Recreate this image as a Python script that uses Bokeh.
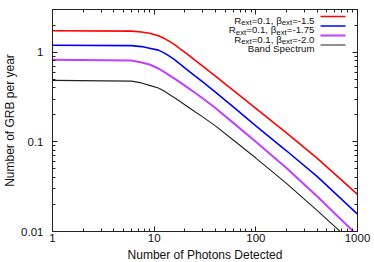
from bokeh.plotting import figure
from bokeh.models import LogAxis, FixedTicker, LogTickFormatter, Label, BoxAnnotation
from bokeh.embed import file_html
from bokeh.resources import INLINE

# ---- data ----
photons = [1, 6, 7.5, 9, 11, 12.5, 14, 16, 18, 21, 25, 30, 40, 60, 100, 200, 400, 1000]
rate_beta_15 = [1.74, 1.72, 1.68, 1.63, 1.53, 1.43, 1.33, 1.21, 1.09, 0.958, 0.82, 0.701,
                0.54, 0.376, 0.237, 0.126, 0.066, 0.0259]
rate_beta_175 = [1.196, 1.187, 1.157, 1.11, 1.057, 0.985, 0.91, 0.824, 0.738, 0.64, 0.547,
                 0.466, 0.36, 0.246, 0.151, 0.0796, 0.0413, 0.0156]
rate_beta_20 = [0.823, 0.809, 0.769, 0.73, 0.659, 0.604, 0.557, 0.505, 0.461, 0.409, 0.356,
                0.307, 0.239, 0.163, 0.1005, 0.051, 0.0247, 0.00903]
rate_band = [0.485, 0.476, 0.455, 0.427, 0.399, 0.37, 0.34, 0.309, 0.282, 0.25, 0.218,
             0.19, 0.151, 0.105, 0.066, 0.0344, 0.0172, 0.00667]

# legend texts as (text, is_subscript) pieces
series_labels = [
    [("R", False), ("ext", True), ("=0.1, \u03b2", False), ("ext", True), ("=-1.5", False)],
    [("R", False), ("ext", True), ("=0.1, \u03b2", False), ("ext", True), ("=-1.75", False)],
    [("R", False), ("ext", True), ("=0.1, \u03b2", False), ("ext", True), ("=-2.0", False)],
    [("Band Spectrum", False)],
]
x_major = [1, 10, 100, 1000]
y_major = [0.01, 0.1, 1]
x_label = "Number of Photons Detected"
y_label = "Number of GRB per year"

FONT = "Liberation Sans"
AX = "#222222"
FRAME_W, FRAME_H = 305, 222

x_minor = [m * 10 ** e for e in range(0, 3) for m in range(2, 10)]
y_minor = [round(m * 10.0 ** e, 4) for e in (-2, -1, 0) for m in range(2, 10) if m * 10.0 ** e < 3]

p = figure(x_axis_type="log", y_axis_type="log", x_range=(1, 1000), y_range=(0.01, 3),
           frame_width=FRAME_W, frame_height=FRAME_H, output_backend="svg", toolbar_location=None,
           min_border_left=52, min_border_right=16, min_border_top=9, min_border_bottom=30)
p.grid.visible = False
p.outline_line_color = AX
p.background_fill_color = "white"
p.border_fill_color = "white"


def style_axis(ax, ticker, show_labels):
    ax.ticker = ticker
    ax.major_tick_in = 5
    ax.major_tick_out = 0
    ax.minor_tick_in = 3
    ax.minor_tick_out = 0
    ax.axis_line_color = AX
    ax.major_tick_line_color = AX
    ax.minor_tick_line_color = AX
    if show_labels:
        ax.major_label_text_font = FONT
        ax.major_label_text_font_size = "11.5px"
        ax.major_label_text_color = "#111111"
        ax.axis_label_text_font = FONT
        ax.axis_label_text_font_size = "12px"
        ax.axis_label_text_font_style = "normal"
        ax.axis_label_text_color = "#111111"
        ax.formatter = LogTickFormatter(min_exponent=4)
    else:
        ax.major_label_text_font_size = "1px"
        ax.major_label_text_alpha = 0
        ax.major_label_standoff = 0


style_axis(p.xaxis[0], FixedTicker(ticks=x_major, minor_ticks=x_minor), True)
style_axis(p.yaxis[0], FixedTicker(ticks=y_major, minor_ticks=y_minor), True)
p.xaxis[0].axis_label = x_label
p.yaxis[0].axis_label = y_label
p.xaxis[0].major_label_standoff = 2
p.xaxis[0].axis_label_standoff = 3
p.yaxis[0].major_label_standoff = 9
p.yaxis[0].axis_label_standoff = 1

top = LogAxis()
style_axis(top, FixedTicker(ticks=x_major, minor_ticks=x_minor), False)
p.add_layout(top, "above")
right = LogAxis()
style_axis(right, FixedTicker(ticks=y_major, minor_ticks=y_minor), False)
p.add_layout(right, "right")

colors = ["#ff0000", "#0000ff", "#c040ff", "#222222"]
widths = [1.6, 1.6, 2.0, 1.1]
series = [rate_beta_15, rate_beta_175, rate_beta_20, rate_band]
for vals, c, w in zip(series, colors, widths):
    p.line(photons, vals, line_color=c, line_width=w)

# ---- legend (gnuplot style: right-aligned text, sample line on its right) ----
# approximate advance widths of Liberation Sans (em units) to chain text pieces
ADV = {"R": .722, "e": .556, "x": .5, "t": .278, "=": .584, ".": .278, ",": .278, " ": .278,
       "-": .333, "\u03b2": .575, "B": .667, "a": .556, "n": .556, "d": .556, "S": .667,
       "p": .556, "c": .5, "r": .333, "u": .556, "m": .833}
MAIN_PX, SUB_PX = 9.7, 7.8


def text_w(s, px):
    return sum(ADV.get(ch, .556) for ch in s) * px


row_offsets = [7, 16.5, 26, 35.5]      # px below the frame top
text_right, sample_left, sample_right = 262, 268, 293
for pieces, c, w, off in zip(series_labels, colors, widths, row_offsets):
    yy = FRAME_H - off
    base = yy - 3.5
    xr = text_right
    for txt, sub in reversed(pieces):
        px = SUB_PX if sub else MAIN_PX
        p.add_layout(Label(x=xr, y=base - (2.5 if sub else 0), x_units="screen", y_units="screen",
                           text=txt, text_align="right", text_baseline="alphabetic",
                           text_font=FONT, text_font_size=f"{px}px", text_color="#111111"))
        xr -= text_w(txt, px)
    p.add_layout(BoxAnnotation(left=sample_left, right=sample_right,
                               bottom=yy - w / 2, top=yy + w / 2,
                               left_units="screen", right_units="screen",
                               bottom_units="screen", top_units="screen",
                               fill_color=c, fill_alpha=1, line_color=None))

open("out.html", "w").write(file_html(p, INLINE))
